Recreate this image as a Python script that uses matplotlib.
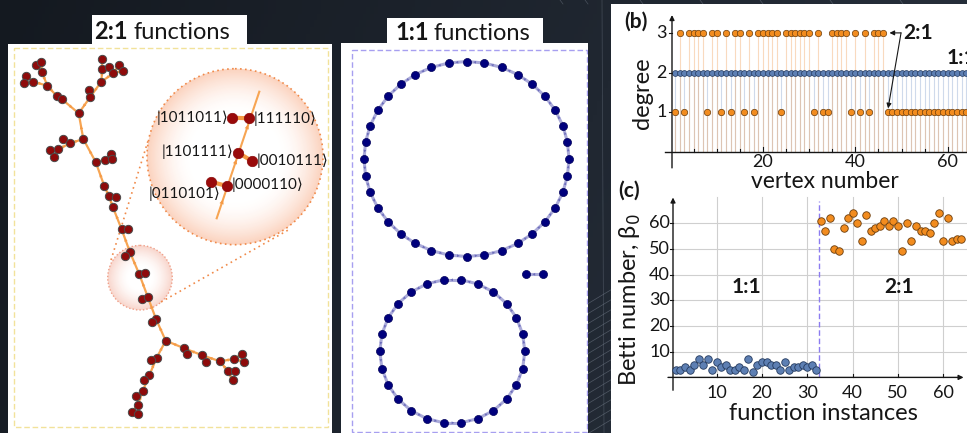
import numpy as np
import matplotlib
matplotlib.use("Agg")
import matplotlib.pyplot as plt
from matplotlib.patches import Rectangle, Circle, FancyArrowPatch
from matplotlib.colors import to_rgb

plt.rcParams['font.family'] = ['Lato', 'DejaVu Sans']

W, H = 967, 433

# ---------------- data ----------------
# 2:1 function graph: vertex layout (panel units) and directed edges (from, to), 1-based
tree_x = [36.0, 41.0, 42.0, 25.7, 24.0, 33.3, 47.3, 56.7, 62.0, 78.7,
          102.3, 102.3, 109.3, 119.0, 122.7, 113.3, 101.3, 89.0, 90.0, 83.3,
          63.3, 70.0, 58.3, 50.0, 54.0, 95.7, 105.0, 110.7, 112.3, 104.3,
          108.7, 115.7, 112.7, 121.7, 127.7, 130.0, 125.0, 139.3, 145.0, 142.3,
          147.7, 156.0, 152.0, 165.7, 184.3, 187.3, 202.3, 206.0, 220.0, 234.0,
          241.7, 243.7, 227.7, 234.7, 232.7, 156.7, 151.0, 149.3, 144.0, 142.7,
          136.0, 138.0, 131.7, 138.3]
tree_y = [65.0, 62.3, 72.3, 75.7, 82.7, 81.7, 85.7, 96.0, 99.3, 113.3,
          59.0, 69.0, 67.3, 65.0, 70.7, 73.3, 81.7, 90.0, 97.3, 139.0,
          139.3, 143.3, 149.3, 150.0, 156.7, 162.0, 160.0, 154.3, 159.3, 186.0,
          195.7, 196.7, 206.7, 229.5, 229.5, 252.3, 256.0, 274.3, 273.3, 299.3,
          296.7, 319.0, 322.3, 340.7, 348.3, 354.0, 355.3, 361.7, 361.3, 359.0,
          354.0, 361.7, 371.0, 370.7, 380.0, 357.7, 360.3, 375.3, 379.7, 391.0,
          395.7, 404.7, 412.0, 414.0]
tree_edges = [(1, 3), (2, 3), (3, 7), (4, 6), (5, 6), (6, 7), (7, 8), (8, 9), (9, 10),
              (11, 12), (13, 12), (12, 17), (14, 16), (15, 16), (16, 17), (18, 19), (17, 19), (19, 10),
              (20, 10), (21, 22), (22, 20), (24, 23), (25, 23), (23, 22),
              (26, 20), (27, 26), (28, 27), (29, 27),
              (30, 26), (31, 30), (32, 31), (33, 31), (34, 33), (35, 34), (36, 34), (37, 36),
              (38, 36), (39, 38), (41, 38), (40, 41), (42, 41), (43, 42), (44, 42),
              (45, 44), (46, 45), (47, 45), (48, 47), (49, 47), (50, 49), (51, 50), (52, 50),
              (53, 49), (54, 53), (55, 53),
              (56, 44), (57, 56), (58, 56), (59, 58), (60, 58), (61, 60), (62, 60), (63, 62), (64, 62)]

# magnified detail of the trunk
detail_x = [231.7, 249.3, 238.3, 252.3, 211.0, 226.7]
detail_y = [117.7, 118.3, 152.7, 161.3, 181.7, 186.0]
detail_labels = ["|1011011⟩", "|111110⟩", "|1101111⟩", "|0010111⟩", "|0110101⟩", "|0000110⟩"]
detail_edges = [(0, 1), (3, 2), (4, 5)]

# 1:1 function graph: cycle lengths and their layout
cycle_sizes = [36, 26, 2]
cycle_cx = [466.5, 452.3, 534.5]
cycle_cy = [159.0, 351.3, 274.3]
cycle_rx = [102.5, 72.5, 8.8]
cycle_ry = [97.5, 72.0, 0.0]
cycle_phase = [90.0, 90.0 + 180.0 / 26, 0.0]

# (b) vertex degrees
vertex = np.arange(1, 65)
degree_21 = [1, 3, 1, 3, 3, 3, 3, 1, 3, 3, 1, 3, 1, 3, 3, 1, 3, 1, 3, 3,
             3, 3, 3, 1, 3, 3, 3, 3, 3, 3, 1, 3, 1, 1, 3, 3, 3, 3, 1, 3,
             1, 3, 1, 3, 3, 3, 1, 1, 1, 1, 1, 1, 1, 1, 1, 1, 1, 1, 1, 1,
             1, 1, 1, 1]
degree_11 = [2] * 64

# (c) Betti numbers per function instance
instances_11 = np.arange(1, 33)
betti_11 = [3, 3, 4, 3, 5, 7, 5, 7, 3, 6, 4, 5, 3, 3, 4, 3, 7, 2, 5, 6,
            6, 5, 5, 3, 6, 3, 4, 4, 5, 4, 5, 3]
instances_21 = np.arange(33, 65)
betti_21 = [61, 57, 62, 50, 49, 58, 62, 64, 60, 53, 63, 57, 58, 59, 61, 59,
            61, 59, 49, 60, 53, 59, 57, 57, 56, 60, 64, 53, 62, 53, 54, 54]

ORANGE = '#f28c1f'
ORANGE_EDGE = '#6b3d0c'
BLUE = '#5d7fb3'
BLUE_EDGE = '#243a5e'
INK = '#161616'

# ---------------- figure ----------------
fig = plt.figure(figsize=(W / 100, H / 100), dpi=100)


def px_axes(x0, y0, x1, y1, **kw):
    return fig.add_axes([x0 / W, 1 - y1 / H, (x1 - x0) / W, (y1 - y0) / H], **kw)


def ftext(x, y, s, **kw):
    return fig.text(x / W, 1 - y / H, s, **kw)


# dark slide background
bg = px_axes(0, 0, W, H)
gx = np.linspace(0, 1, 256)
gy = np.linspace(0, 1, 64)
GX, GY = np.meshgrid(gx, gy)
c0 = np.array(to_rgb('#141920'))
c1 = np.array(to_rgb('#2c3542'))
t = np.clip(0.75 * GX + 0.15 * GY, 0, 1)[..., None]
bg.imshow(c0 * (1 - t) + c1 * t, extent=(0, W, H, 0), aspect='auto', zorder=0)
for k in range(14):
    y = 300 + k * 10
    bg.plot([584, 614], [y + 6, y - 12], color='#8a94a3', lw=0.5, alpha=0.45, zorder=1)
bg.plot([602, 604], [0, H], color='#8a94a3', lw=0.5, alpha=0.35, zorder=1)
for xx in [560, 585, 640, 700, 760, 830, 900]:
    bg.plot([xx, xx + 3], [0, 4], color='#8a94a3', lw=0.5, alpha=0.4, zorder=1)
# white panels
bg.add_patch(Rectangle((8, 44), 324, 400, fc='white', ec='none', zorder=2))
bg.add_patch(Rectangle((92, 15), 155, 30, fc='white', ec='none', zorder=2))
bg.add_patch(Rectangle((341, 43), 247, 400, fc='white', ec='none', zorder=2))
bg.add_patch(Rectangle((387, 18), 156, 26, fc='white', ec='none', zorder=2))
bg.add_patch(Rectangle((611, 4), 360, 440, fc='white', ec='none', zorder=2))
bg.set_xlim(0, W)
bg.set_ylim(H, 0)
bg.axis('off')

# panel titles
ftext(128, 39, "2:1", fontsize=17, fontweight='bold', color=INK, va='baseline', ha='right')
ftext(133, 39, "functions", fontsize=17, color=INK, va='baseline')
ftext(429, 40, "1:1", fontsize=17, fontweight='bold', color=INK, va='baseline', ha='right')
ftext(434, 40, "functions", fontsize=17, color=INK, va='baseline')


def mid_arrow(ax, p, q, color, size, z):
    p = np.asarray(p, float)
    q = np.asarray(q, float)
    ax.add_patch(FancyArrowPatch(p + 0.40 * (q - p), p + 0.62 * (q - p), arrowstyle='-|>',
                                 mutation_scale=size, color=color, lw=0, zorder=z))


def radial_disk(ax, cx, cy, r, inner, outer, z, start=0.5, power=2.0, steps=40):
    """Shade a disk from `outer` at the rim to `inner` inside radius start*r."""
    ci = np.array(to_rgb(inner))
    co = np.array(to_rgb(outer))
    for k in range(steps + 1):
        f = 1 - k / steps                       # 1 at rim .. 0 at inner radius
        rad = r * (start + (1 - start) * f)
        w = f ** power
        col = ci * (1 - w) + co * w
        ax.add_patch(Circle((cx, cy), rad, fc=col, ec='none', zorder=z))


# ---------------- 2:1 functions graph ----------------
axa = px_axes(8, 44, 332, 433)
axa.set_xlim(8, 332)
axa.set_ylim(433, 44)
axa.axis('off')
axa.add_patch(Rectangle((14, 48), 314, 379, fill=False, ec='#f2e29a', lw=1.0,
                        ls=(0, (4, 2)), zorder=1))
EDGE_OR = '#f7a553'
for a, b in tree_edges:
    p = (tree_x[a - 1], tree_y[a - 1])
    q = (tree_x[b - 1], tree_y[b - 1])
    axa.plot([p[0], q[0]], [p[1], q[1]], color=EDGE_OR, lw=1.6, zorder=3, solid_capstyle='round')
    mid_arrow(axa, p, q, '#f59a45', 6, 3)
axa.plot(tree_x, tree_y, 'o', ms=6.0, mfc='#8e0b0b', mec='#4a4a4a', mew=0.7, zorder=4)

# magnifier
radial_disk(axa, 140, 277.7, 32.3, '#ffffff', '#f8d6cc', 2, start=0.35, power=1.6)
axa.add_patch(Circle((140, 277.7), 32.3, fill=False, ec='#f0a08a', lw=1.0, ls=(0, (1, 1.5)), zorder=2))
radial_disk(axa, 235, 156.7, 88, '#ffffff', '#fbd3bf', 2, start=0.5, power=1.8)
axa.add_patch(Circle((235, 156.7), 88, fill=False, ec='#f08a4a', lw=1.2, ls=(0, (1, 2)), zorder=2))
axa.plot([111.0, 148.3], [260.0, 140.0], color='#f08a4a', lw=1.2, ls=(0, (1, 2.2)), zorder=2)
axa.plot([161.0, 290.0], [302.0, 229.0], color='#f08a4a', lw=1.2, ls=(0, (1, 2.2)), zorder=2)

# detail of trunk
axa.plot([216.7, 259.3], [218.3, 91.7], color=EDGE_OR, lw=1.5, zorder=3)
for y0 in [205, 165, 130]:
    x0 = 216.7 + (218.3 - y0) * (259.3 - 216.7) / (218.3 - 91.7)
    x1 = 216.7 + (218.3 - y0 + 8) * (259.3 - 216.7) / (218.3 - 91.7)
    axa.add_patch(FancyArrowPatch((x0, y0), (x1, y0 - 8), arrowstyle='-|>', mutation_scale=8,
                                  color='#f59a45', lw=0, zorder=3))
for a, b in detail_edges:
    axa.plot([detail_x[a], detail_x[b]], [detail_y[a], detail_y[b]], color='#f59a45', lw=3.0,
             zorder=3, solid_capstyle='round')
axa.plot(detail_x, detail_y, 'o', ms=7.5, mfc='#990a0a', mec='#8a0a0a', mew=0.5, zorder=4)
lab_kw = dict(fontsize=11, color=INK, va='center', zorder=5,
              family=['Lato', 'DejaVu Sans'])
axa.text(228.0, 117.7, detail_labels[0], ha='right', **lab_kw)
axa.text(254.0, 118.3, detail_labels[1], ha='left', **lab_kw)
axa.text(233.5, 151.7, detail_labels[2], ha='right', **lab_kw)
axa.text(256.5, 160.5, detail_labels[3], ha='left', **lab_kw)
axa.text(221.0, 193.3, detail_labels[4], ha='right', **lab_kw)
axa.text(232.0, 185.0, detail_labels[5], ha='left', **lab_kw)

# ---------------- 1:1 functions graph ----------------
axm = px_axes(341, 43, 588, 433)
axm.set_xlim(341, 588)
axm.set_ylim(433, 43)
axm.axis('off')
axm.add_patch(Rectangle((351.7, 50), 235.6, 381.7, fill=False, ec='#a79ff0', lw=1.0,
                        ls=(0, (4, 2)), zorder=1))
for n, cx, cy, rx, ry, ph in zip(cycle_sizes, cycle_cx, cycle_cy, cycle_rx, cycle_ry, cycle_phase):
    ang = np.deg2rad(ph + 360.0 * np.arange(n) / n)
    xs = cx + rx * np.cos(ang)
    ys = cy - ry * np.sin(ang)
    for i in range(n):
        j = (i + 1) % n
        if n == 2 and i == 1:
            break
        axm.plot([xs[i], xs[j]], [ys[i], ys[j]], color='#7f7fc6', lw=2.2, alpha=0.65, zorder=2,
                 solid_capstyle='round')
        mid_arrow(axm, (xs[i], ys[i]), (xs[j], ys[j]), '#6d6dbb', 5, 2)
    axm.plot(xs, ys, 'o', ms=5.8, mfc='#00007d', mec='#00005a', mew=0.5, zorder=3)

# ---------------- (b) degree plot ----------------
bx0, bs = 670.5, 4.62      # pixel position of vertex 0, pixels per vertex
by0, bd = 152.0, 39.7      # pixel position of degree 0, pixels per degree
axb = px_axes(655, 10, 985, 172)
axb.set_xlim((655 - bx0) / bs, (985 - bx0) / bs)
axb.set_ylim((by0 - 172) / bd, (by0 - 10) / bd)
axb.axis('off')
axb.vlines(vertex, 0, degree_11, color='#a8bcdc', lw=0.8, alpha=0.55, zorder=1)
axb.vlines(vertex, 0, degree_21, color='#f2a868', lw=0.8, alpha=0.42, zorder=1)
axb.plot(vertex, degree_11, 'o', ms=4.2, mfc=BLUE, mec=BLUE_EDGE, mew=0.5, zorder=3)
axb.plot(vertex, degree_21, 'o', ms=4.6, mfc=ORANGE, mec=ORANGE_EDGE, mew=0.5, zorder=4)
v0 = (672 - bx0) / bs
arr = dict(arrowstyle='-|>', lw=1.0, color=INK, mutation_scale=7, shrinkA=0, shrinkB=0)
axb.annotate('', xy=(v0, 3.45), xytext=(v0, -0.4), arrowprops=arr, annotation_clip=False)
axb.plot([(665 - bx0) / bs, 70], [0, 0], color=INK, lw=1.0, clip_on=False, zorder=5)
for d in [1, 2, 3]:
    axb.plot([v0 - 0.7, v0], [d, d], color=INK, lw=0.8, clip_on=False)
    axb.text(v0 - 1.1, d, str(d), ha='right', va='center', fontsize=13, color=INK)
for v in range(5, 70, 5):
    axb.plot([v, v], [0, 0.12 if v % 20 == 0 else 0.07], color=INK, lw=0.8, clip_on=False, zorder=5)
for v in [20, 40, 60]:
    axb.text(v, -0.24, str(v), ha='center', va='center', fontsize=13, color=INK)
axb.text((903 - bx0) / bs, 3.0, "2:1", ha='left', va='center', fontsize=15, fontweight='bold', color=INK)
arr2 = dict(arrowstyle='-|>', lw=0.8, color=INK, mutation_scale=7, shrinkA=0, shrinkB=0)
axb.annotate('', xy=(47.4, 3.0), xytext=(49.9, 3.0), arrowprops=arr2)
axb.annotate('', xy=(47.1, 1.1), xytext=(49.9, 3.0), arrowprops=arr2)
axb.text((947 - bx0) / bs, 2.37, "1:1", ha='left', va='center', fontsize=15, fontweight='bold',
         color=INK, clip_on=False)
ftext(636, 22, "(b)", fontsize=15, fontweight='bold', color=INK, ha='center', va='center')
ftext(643, 93, "degree", fontsize=17, color=INK, ha='center', va='center', rotation=90)
ftext(825, 181, "vertex number", fontsize=16.5, color=INK, ha='center', va='center')

# ---------------- (c) Betti numbers ----------------
cx0, cs = 671.4, 4.53
cy0, cb = 377.4, 2.57
axc = px_axes(655, 190, 985, 395)
axc.set_xlim((655 - cx0) / cs, (985 - cx0) / cs)
axc.set_ylim((cy0 - 395) / cb, (cy0 - 190) / cb)
axc.axis('off')
u0 = (673 - cx0) / cs
for g in range(10, 70, 10):
    axc.plot([g, g], [0, 70], color='#cfcfcf', lw=0.8, zorder=1)
    axc.plot([u0, 72], [g, g], color='#cfcfcf', lw=0.8, zorder=1)
axc.plot([32.5, 32.5], [0, 68.8], color='#8c7cf0', lw=1.0, ls=(0, (4, 2)), zorder=2)
axc.plot(instances_11, betti_11, 'o', ms=5.4, mfc=BLUE, mec=BLUE_EDGE, mew=0.6, zorder=4)
axc.plot(instances_21, betti_21, 'o', ms=5.4, mfc=ORANGE, mec=ORANGE_EDGE, mew=0.6, zorder=4)
axc.annotate('', xy=(u0, 70), xytext=(u0, -5), arrowprops=arr, annotation_clip=False)
axc.annotate('', xy=(64.5, 0), xytext=((668 - cx0) / cs, 0), arrowprops=arr, annotation_clip=False)
for g in range(10, 70, 10):
    axc.plot([u0 - 0.6, u0], [g, g], color=INK, lw=0.8, clip_on=False)
    axc.text(u0 - 0.7, g, str(g), ha='right', va='center', fontsize=13, color=INK)
    axc.plot([g, g], [0, 1.2], color=INK, lw=0.8, zorder=5)
    axc.text(g, -6.1, str(g), ha='center', va='center', fontsize=13, color=INK, clip_on=False)
axc.text(16.5, 35.2, "1:1", ha='center', va='center', fontsize=15, fontweight='bold', color=INK)
axc.text(50.3, 35.2, "2:1", ha='center', va='center', fontsize=15, fontweight='bold', color=INK)
ftext(629, 191, "(c)", fontsize=15, fontweight='bold', color=INK, ha='center', va='center')
ftext(630, 300, "Betti number, β$_0$", fontsize=17, color=INK, ha='center', va='center', rotation=90)
ftext(823, 413, "function instances", fontsize=17, color=INK, ha='center', va='center')

fig.savefig("out.png", dpi=100)
